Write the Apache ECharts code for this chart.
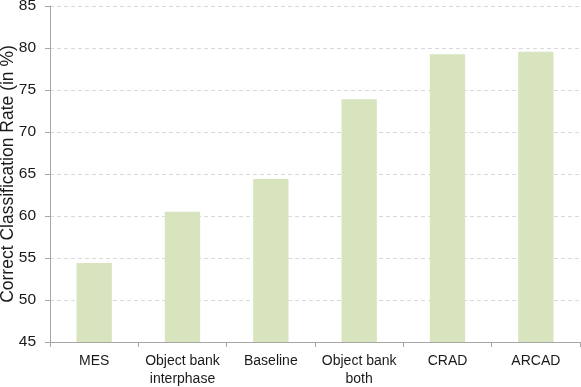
<!DOCTYPE html>
<html>
<head>
<meta charset="utf-8">
<script src="https://cdn.jsdelivr.net/npm/echarts@6/dist/echarts.min.js"></script>
<style>html,body{margin:0;padding:0;background:#fff}#c{width:581px;height:387px}</style>
</head>
<body>
<div id="c"></div>
<script>
const categories = ["MES", "Object bank\ninterphase", "Baseline", "Object bank\nboth", "CRAD", "ARCAD"];
const values = [54.4, 60.5, 64.4, 73.9, 79.25, 79.55];
const yTicks = [45, 50, 55, 60, 65, 70, 75, 80, 85];

const chart = echarts.init(document.getElementById('c'), null, {renderer: 'canvas'});
chart.setOption({
  animation: false,
  grid: {left: 50, right: 1, top: 6, bottom: 45, containLabel: false, outerBoundsMode: 'none'},
  xAxis: {
    type: 'category',
    data: categories,
    axisLine: {lineStyle: {color: '#A6A6A6', width: 1}},
    axisTick: {show: true, length: 5, lineStyle: {color: '#A6A6A6'}},
    axisLabel: {color: '#1a1a1a', fontFamily: 'Liberation Sans', fontSize: 14, margin: 10, lineHeight: 18, interval: 0}
  },
  yAxis: {
    type: 'value',
    min: yTicks[0], max: yTicks[yTicks.length - 1], interval: 5,
    name: 'Correct Classification Rate (in %)',
    nameLocation: 'middle',
    nameGap: 33,
    nameMoveOverlap: false,
    nameTextStyle: {color: '#1a1a1a', fontFamily: 'Liberation Sans', fontSize: 17.5},
    axisLine: {show: true, lineStyle: {color: '#A6A6A6', width: 1}},
    axisTick: {show: true, length: 5, lineStyle: {color: '#A6A6A6'}},
    axisLabel: {color: '#1a1a1a', fontFamily: 'Liberation Sans', fontSize: 15.5, margin: 14},
    splitLine: {show: true, lineStyle: {color: '#D9D9D9', type: [4, 3], width: 1}}
  },
  series: [{
    type: 'bar',
    data: values,
    barWidth: '40%',
    itemStyle: {color: '#D7E4BD'}
  }]
});
</script>
</body>
</html>
